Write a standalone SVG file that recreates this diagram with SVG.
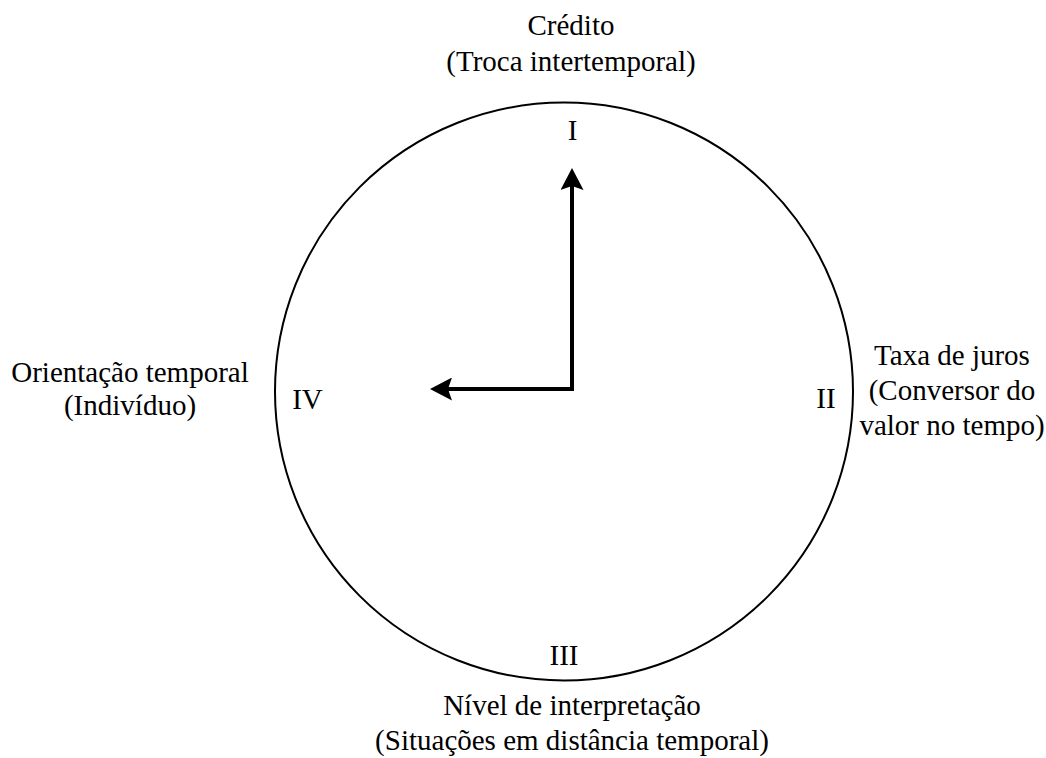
<svg xmlns="http://www.w3.org/2000/svg" width="1046" height="758" viewBox="0 0 1046 758">
  <style>
    text { font-family: "Liberation Serif", "Times New Roman", serif; font-size: 29px; fill: #000; text-anchor: middle; }
    .ring { fill: none; stroke: #000; stroke-width: 2; }
    .hand { fill: none; stroke: #000; stroke-width: 4; stroke-linejoin: miter; }
  </style>
  <defs>
    <marker id="arr" viewBox="0 0 22 23" refX="4" refY="11.5" markerWidth="22" markerHeight="23" markerUnits="userSpaceOnUse" orient="auto-start-reverse">
      <path d="M0,0 L22,11.5 L0,23 L4,11.5 Z" fill="#000"/>
    </marker>
  </defs>
  <rect width="1046" height="758" fill="#fff"/>
  <g id="clock">
    <circle class="ring" cx="564" cy="391.5" r="289"/>
  </g>
  <g id="connectors">
    <path class="hand" d="M572,186 V389 H448" marker-start="url(#arr)" marker-end="url(#arr)"/>
  </g>
  <g id="node-I">
    <text x="572.5" y="140">I</text>
  </g>
  <g id="node-II">
    <text x="826" y="408">II</text>
  </g>
  <g id="node-III">
    <text x="564" y="665">III</text>
  </g>
  <g id="node-IV">
    <text x="307.5" y="409">IV</text>
  </g>
  <g id="label-credito">
    <text x="571" y="35">Crédito</text>
    <text x="571" y="71">(Troca intertemporal)</text>
  </g>
  <g id="label-taxa">
    <text x="952" y="365">Taxa de juros</text>
    <text x="952" y="400">(Conversor do</text>
    <text x="952" y="435">valor no tempo)</text>
  </g>
  <g id="label-nivel">
    <text x="572" y="715">Nível de interpretação</text>
    <text x="572" y="750">(Situações em distância temporal)</text>
  </g>
  <g id="label-orientacao">
    <text x="130" y="382">Orientação temporal</text>
    <text x="130" y="415">(Indivíduo)</text>
  </g>
</svg>
